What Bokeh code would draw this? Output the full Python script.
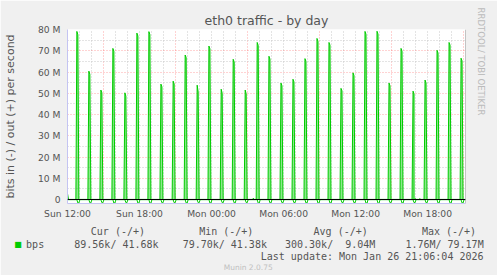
import math
from bokeh.plotting import figure
from bokeh.models import Range1d, FixedTicker, Span, Title, Label
from bokeh.embed import file_html
from bokeh.resources import INLINE

# ---------------- data ----------------
TITLE = "eth0 traffic - by day"
Y_LABEL = "bits in (-) / out (+) per second"

x_tick_hours = [12, 18, 24, 30, 36, 42]          # hours since Sun 00:00
x_tick_labels = ["Sun 12:00", "Sun 18:00", "Mon 00:00", "Mon 06:00", "Mon 12:00", "Mon 18:00"]
y_tick_values = [0, 10, 20, 30, 40, 50, 60, 70, 80]   # Mbit/s
y_tick_labels = ["0", "10 M", "20 M", "30 M", "40 M", "50 M", "60 M", "70 M", "80 M"]

# hourly transfer bursts (hours since Sun 00:00)
spike_hours = [12.78, 13.78, 14.78, 15.78, 16.78, 17.78, 18.78, 19.78, 20.80, 21.80,
               22.80, 23.78, 24.80, 25.80, 26.80, 27.80, 28.78, 29.78, 30.78, 31.78,
               32.78, 33.78, 34.78, 35.78, 36.78, 37.78, 38.78, 39.78, 40.78, 41.78,
               42.78, 43.78, 44.78]
out_peak_M = [79.1, 60.4, 51.5, 71.1, 50.2, 78.3, 79.0, 54.3, 55.7, 68.0,
              53.8, 72.2, 51.9, 66.0, 51.5, 73.9, 67.4, 54.8, 56.6, 66.3,
              75.8, 73.9, 52.3, 59.6, 79.1, 79.17, 54.8, 71.1, 51.0, 56.2,
              70.2, 73.9, 66.5]
out_second_M = [77.5, 58.9, 50.2, 69.8, 48.6, 76.9, 77.6, 53.0, 54.4, 66.8,
                50.6, 70.9, 50.0, 64.7, 49.7, 72.5, 66.1, 53.5, 55.3, 65.0,
                74.4, 72.6, 51.1, 58.3, 77.7, 77.8, 53.5, 69.8, 49.7, 54.9,
                68.9, 72.6, 65.2]
in_dip_M = [1.62, 1.55, 1.48, 1.66, 1.45, 1.71, 1.74, 1.52, 1.50, 1.63,
            1.49, 1.68, 1.47, 1.60, 1.46, 1.70, 1.61, 1.51, 1.53, 1.62,
            1.72, 1.69, 1.48, 1.56, 1.75, 1.76, 1.52, 1.66, 1.47, 1.53,
            1.65, 1.70, 1.61]
blip_hours = [27.48, 40.95, 41.35]
blip_M = [0.6, 0.45, 0.4]
start_out_M = 2.8
out_base_M = 0.042
in_base_M = 0.085

legend_headers = ["Cur (-/+)", "Min (-/+)", "Avg (-/+)", "Max (-/+)"]
legend_values = ["89.56k/ 41.68k", "79.70k/ 41.38k", "300.30k/  9.04M", "1.76M/ 79.17M"]
series_name = "bps"
last_update = "Last update: Mon Jan 26 21:06:04 2026"
footer = "Munin 2.0.75"
watermark = "RRDTOOL/ TOBI OETIKER"

# ---------------- geometry ----------------
W, H = 497, 275
FL, FR, FT, FB = 67, 465, 29, 203
X0, X1 = 12.0, 45.15
Y0, Y1 = -1.88, 80.0
STEP = 5.0 / 60.0   # one 5-minute sample

def dx(px):
    return X0 + (px - FL) * (X1 - X0) / (FR - FL)

def dy(py):
    return Y1 - (py - FT) * (Y1 - Y0) / (FB - FT)

GREEN = "#00CC00"
AXIS = "#C4C4F2"
TXT = "#555555"
BG = "#F0F0F0"
NB = "\u00A0"

def pad_row(parts, cols):
    """monospace row: put each part at its character column (non-collapsing spaces)"""
    s = ""
    for part, c in zip(parts, cols):
        s += NB * (c - len(s)) + part.replace(" ", NB)
    return s

# ---------------- series ----------------
pts_out = [(X0, start_out_M), (X0 + STEP, out_base_M)]
for t, p1, p2 in zip(spike_hours, out_peak_M, out_second_M):
    pts_out += [(t - STEP, out_base_M), (t, p1), (t + STEP, p2), (t + 2 * STEP, out_base_M)]
for t, v in zip(blip_hours, blip_M):
    pts_out += [(t - STEP, out_base_M), (t, v), (t + STEP, out_base_M)]
pts_out.append((X1, out_base_M))
pts_out.sort()
out_x = [a for a, b in pts_out]
out_y = [b for a, b in pts_out]

pts_in = [(X0, -in_base_M)]
for t, d in zip(spike_hours, in_dip_M):
    pts_in += [(t, -in_base_M), (t + STEP, -d), (t + 2 * STEP, -d), (t + 3 * STEP, -in_base_M)]
pts_in.append((X1, -in_base_M))
pts_in.sort()
in_x = [a for a, b in pts_in]
in_y = [b for a, b in pts_in]

# ---------------- main figure ----------------
p = figure(width=W, height=H, output_backend="svg", toolbar_location=None,
           x_range=Range1d(X0, X1), y_range=Range1d(Y0, Y1),
           min_border_left=FL, min_border_right=W - FR,
           min_border_top=FT, min_border_bottom=H - FB)
p.border_fill_color = BG
p.background_fill_color = "white"
p.outline_line_color = None

p.title.text = TITLE
p.title.align = "center"
p.title.offset = -17.5
p.title.text_font = "DejaVu Sans"
p.title.text_font_size = "12.5px"
p.title.text_font_style = "normal"
p.title.text_color = TXT
p.title.standoff = 3

p.add_layout(Title(text=watermark, align="left", offset=-22, text_font="DejaVu Sans",
                   text_font_size="8.6px", text_font_style="normal",
                   text_color="#BBBBBB", standoff=20), "right")

# grids
major_v = [15, 21, 27, 33, 39, 45]
minor_v = [h for h in range(13, 46) if h not in major_v]
p.xgrid.ticker = FixedTicker(ticks=major_v, minor_ticks=minor_v)
p.ygrid.ticker = FixedTicker(ticks=[10, 20, 30, 40, 50, 60, 70, 80],
                             minor_ticks=[5, 15, 25, 35, 45, 55, 65, 75])
for g in (p.xgrid, p.ygrid):
    g.grid_line_color = "#FF0000"
    g.grid_line_alpha = 0.35
    g.grid_line_dash = "1 2"
    g.grid_line_width = 1
    g.minor_grid_line_color = "#C8C8C8"
    g.minor_grid_line_dash = "1 2"
    g.minor_grid_line_width = 1

# axes
p.xaxis.ticker = FixedTicker(ticks=x_tick_hours)
p.xaxis.major_label_overrides = dict(zip(x_tick_hours, x_tick_labels))
p.yaxis.ticker = FixedTicker(ticks=y_tick_values)
p.yaxis.major_label_overrides = dict(zip(y_tick_values, y_tick_labels))
for ax in (p.xaxis, p.yaxis):
    ax.axis_line_color = AXIS
    ax.major_tick_in = 0
    ax.major_tick_out = 0
    ax.minor_tick_line_color = None
    ax.major_label_text_font = "DejaVu Sans"
    ax.major_label_text_font_size = "9.2px"
    ax.major_label_text_color = TXT
p.xaxis.major_label_standoff = 4
p.yaxis.major_label_standoff = 7
p.yaxis.axis_label = Y_LABEL
p.yaxis.axis_label_text_font = "DejaVu Sans"
p.yaxis.axis_label_text_font_size = "11px"
p.yaxis.axis_label_text_font_style = "normal"
p.yaxis.axis_label_text_color = TXT
p.yaxis.axis_label_standoff = 18

# data
p.varea(x=out_x, y1=0, y2=out_y, fill_color=GREEN, fill_alpha=0.45)
p.line(out_x, out_y, line_color=GREEN, line_width=1)
p.line(in_x, in_y, line_color=GREEN, line_width=1)
p.add_layout(Span(location=0, dimension="width", line_color="black", line_width=1))
p.add_layout(Span(location=X1, dimension="height", line_color="#8A8A8A", line_width=1))

# ---------------- legend (labels in the bottom panel, placed via the plot scales) ----------------
def lab(text, px, py, size, side="below", font="DejaVu Sans Mono", color=TXT, align="left"):
    p.add_layout(Label(x=dx(px), y=dy(py), x_units="data", y_units="data",
                       text=text, text_font=font, text_font_size=size,
                       text_color=color, text_align=align, text_baseline="alphabetic"),
                 side)

row_headers = pad_row(legend_headers, [0, 18, 37, 55])
row_values = pad_row([series_name] + legend_values, [0, 8, 26, 43, 63])

lab(row_headers, 90.3, 231, "10px")
lab(row_values, 25.6, 243.5, "10px")
lab(last_update, 483, 255.5, "10px", align="right")
lab(footer, 247.7, 266.5, "7.5px", font="DejaVu Sans", color="#C0C0C0", align="center")
lab("\u25A0", 13.8, 243.8, "8px", font="DejaVu Sans", color=GREEN)

open("out.html", "w").write(file_html(p, INLINE))
